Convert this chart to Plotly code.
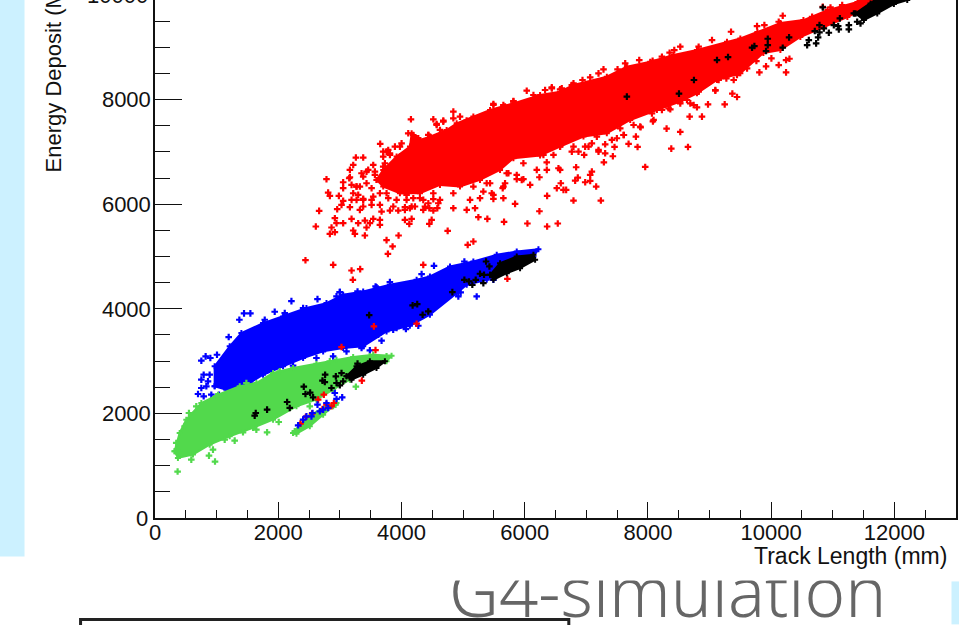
import plotly.graph_objects as go

red_core_x = [3596,3704,3921,4138,4165,4300,4463,4733,4896,5167,5438,5817,6250,6575,6792,7333,7658,8038,8417,8796,9283,9500,9776,10150,10524,10914,11401,11612,11950,
              11900,11237,10847,10474,10150,9874,9500,9121,8796,8525,8146,7713,7333,6954,6575,6250,5817,5600,5275,4950,4625,4300,3975,3704]
red_core_y = [6465,6656,6911,7102,7356,7229,7293,7420,7547,7675,7802,7929,8088,8152,8279,8439,8630,8725,8852,8948,9107,9171,9292,9464,9521,9712,9865,9950,10050,
              9950,9579,9388,9197,8949,8892,8502,8375,8120,7961,7802,7611,7356,7293,7102,6930,6879,6656,6465,6338,6369,6210,6210,6338]
red_x = [3655,3260,3379,3217,3163,3163,2783,3054,3054,2810,2838,2984,3054,3190,3271,3379,3027,2664,2957,3163,3325,3515,3650,3677,3813,3948,4056,
         2919,2946,3054,3190,3298,3406,3488,3542,3650,3650,2610,2865,2919,2838,3217,3244,3406,3433,4056,4165,4127,4490,4452,4750,3758,3953,3856,3780,
         2442,2892,3190,3330,3211,4354,5075,5167,5059,5194,5248,5394,5665,5844,6044,6239,6364,6537,6792,6364,6629,6521,6586,6819,6982,7063,7160,7090,
         6835,6575,6359,6239,6088,5654,5492,5275,5113,4436,4598,4517,4517,4452,4582,4354,3460,3542,3569,3758,3813,3975,3975,3731,3433,3515,3650,3786,
         3921,4083,4192,4300,4219,4138,4056,4192,4246,4408,4246,4138,4436,4571,4679,3325,3352,3271,3190,3298,3515,3704,
         6033,5817,5492,5681,6142,6440,6602,6765,7063,7198,7279,7507,7631,7859,8076,8227,8352,8525,8428,8823,9040,9349,9771,9890,10123,10188,10665,10838,
         11153,10963,11450,7236,6673,6862,5871,5979,5643,5681,5465,6548,6196,6358,7063,7285,7431,7306,7198,6965,6765,6873,7036,7306,7458,7686,7832,7610,
         7805,7881,8081,7956,8379,8650,8525,8303,8677,8877,8975,9246,8796,8688,9094,9370,9446,9809,10242,9917,10123,10242,10297,10004,9760,9609,9446,
         9273,9148,8823,8525,8363,8065,7767,7496,7171,6575,6304,5979,5708,5438,5329,6467,5719,
         4154,3704,3785,4517,4679,4571,4842,4950,4842,5058,5492,5654,5817,4625,4436,4273,4110,4002,3894,3813,3704,3569,3433,3379,
         5952,5871,5736,5654,5383,5167,4842,4517,5492,4842,4625,4381,4165,3867,3379,3379,3271,3217,3152,3542,3758,4083,4354,
         6331,6440,6575,6792,6938,7550,7875,8092,8227,8336,8634,8742,9094,9392,7090,6981,6792,7198,7415,7604]
red_y = [7153,6892,6892,6751,6656,6516,6478,6420,6306,6223,6159,6159,6064,6083,6083,6083,5987,5873,5905,5943,5892,5987,5987,5860,5879,5879,5943,
         5733,5637,5637,5720,5637,5688,5637,5720,5701,5605,5574,5555,5465,5433,5497,5433,5402,5555,5701,5720,5624,5701,5624,5491,5313,5402,5192,5051,
         4930,4841,4733,4759,4555,4841,5223,5287,5892,5924,5752,5720,5663,6007,5631,5866,5574,5631,6070,6159,6274,6306,6401,6452,6420,6446,6338,6624,
         6707,6656,6656,6516,6369,6115,6102,6115,6083,6019,6019,6096,5879,5924,5924,5892,6656,6751,6560,7006,6974,7102,6911,6783,6401,6306,6210,6115,
         6083,6178,6115,6115,5956,5924,5892,7324,7261,7165,7038,6847,7324,7535,7579,6338,6592,6338,6370,6178,6083,6911,
         8171,7961,7897,7866,8088,8216,8216,8279,8426,8502,8579,8579,8693,8757,8744,8821,8897,9012,8948,9012,9139,9298,9406,9425,9489,9604,9585,9776,
         9807,9763,9903,6070,6274,6509,6478,6478,6306,6401,6210,6688,6656,6802,6560,6802,6917,6974,7006,6942,7006,7006,7101,7146,7095,7153,7095,7324,
         7293,7471,7585,6713,7063,7095,7382,7445,7675,7675,7910,7910,7853,7929,8171,8114,8050,8521,8521,8636,8661,8757,8782,8789,8738,8598,8470,
         8407,8375,8152,7929,7815,7738,7515,7261,7293,7101,6942,6783,6592,6401,6242,6942,4574,
         7624,7006,7038,7624,7598,7515,7770,7675,7643,7598,7917,7897,7974,7420,7325,7261,7356,7165,7102,6943,6720,6624,6624,6529,
         6465,6560,6592,6338,6401,6338,6210,6210,6178,5924,6083,5956,5956,5956,6102,5956,6338,6210,6497,6147,6210,6083,6083,
         8184,8235,8197,8311,8375,7452,7484,7611,7802,7834,7993,7897,8184,8375,7165,7102,7102,7038,7229,7324]

blue_core_x = [968,968,1212,1402,1754,2079,2458,2783,3054,3379,3812,4246,4462,4788,5167,5546,5871,6223,6142,5384,5059,4896,4462,4137,3758,3379,3054,2729,2404,2079,1754,1537,1158]
blue_core_y = [2518,2900,3282,3536,3727,3855,4014,4109,4268,4332,4459,4555,4619,4810,4905,5032,5096,5141,5000,4555,4459,4300,3886,3676,3568,3282,3250,3186,3059,2900,2740,2581,2454]
blue_x = [1445,1548,1369,1196,2214,1943,2637,3287,3000,3596,3812,4327,752,822,898,1006,790,887,752,833,698,790,914,1039,752,860,1781,2106,2404,2946,
          3921,4072,3677,3623,3866,3352,3487,4273,4110,3108,2891,2620,2241,4528,5021,5221,5492,4923,4961,3580,3000]
blue_y = [3912,3912,3791,3460,4147,3944,4186,4332,4319,4409,4510,4663,3008,3091,3059,3122,2740,2740,2645,2518,2371,2327,2358,2358,2486,2613,3791,3918,4014,4237,
          3632,3613,3390,3504,3600,3250,3205,3676,3791,3186,3091,3059,2912,4822,4905,4236,4555,4236,4313,4428,4319]
blue_gap_x = [2323,2458,2556,2675,2810,2946,3038,2637,2918,2783,2404,2539,2729]
blue_gap_y = [1773,1944,2008,2040,2104,2276,2307,2167,2390,2199,1881,1944,2072]

green_core_x = [318,400,508,752,1023,1375,1645,1916,2241,2620,2946,3216,3541,3839,3758,3487,3162,2891,2620,2296,1916,1591,1212,887,616,372]
green_core_y = [1276,1626,1881,2199,2358,2518,2581,2772,2868,2951,3027,3078,3122,3103,2995,2868,2645,2454,2263,2136,1881,1722,1562,1403,1212,1149]
green_stripe_x = [2241,2350,2539,2783,2946,2891,2729,2512,2296]
green_stripe_y = [1626,1785,1976,2136,2199,2136,1976,1754,1613]
green_x = [551,400,589,876,974,941,1131,1293,1428,1645,1819,2008,1727,3260,2620,2512,2930,2268,3487,3758,2837,2025,1483,995,670,481,345,367]
green_y = [2008,1244,1117,1193,1079,1308,1499,1480,1639,1690,1639,1836,1881,2511,2295,2136,2167,1658,3090,3090,2995,2804,2581,2327,2136,1754,1435,888]

red_gap_x = [2447,2361,2550,2740,2648,2783,2864,2902,2718,3357,3579,4246,3552,3027]
red_gap_y = [1932,1804,1995,2358,2263,2167,2136,2199,2085,2626,3211,3715,3664,3269]

black_a_x = [3108,3270,3487,3731,3595,3379,3189]
black_a_y = [2709,2900,2995,2995,2868,2740,2645]
black_b_x = [5438,5600,5871,6142,6169,5925,5709,5492]
black_b_y = [4650,4873,5000,5032,4937,4778,4682,4555]
black_c_x = [11369,11613,11800,12300,12209,11992,11722,11505]
black_c_y = [9648,9839,10000,10000,9903,9827,9648,9521]
black_x = [7658,8504,8747,9121,9300,9690,9728,9945,9945,9917,10188,10291,10611,10584,10730,10708,10784,10762,10784,10855,10936,11017,11088,11098,11261,11261,11115,10838,11342,11396,11450,
           1635,1618,1819,2144,2187,2415,2442,2518,2566,2718,2761,2756,2864,2935,2946,3027,3054,3000,3287,3476,4181,4256,4343,4435,
           4826,5021,5096,5150,5205,5275,5340,5373,5427,5329]
black_y = [8057,8114,8375,8757,8814,8993,9024,9164,9043,8929,8993,9190,9139,9043,9075,9311,9285,9190,9425,9362,9279,9425,9406,9343,9425,9343,9553,9763,9648,9489,9457,
           2008,1957,2072,2218,2104,2511,2371,2397,2307,2626,2740,2600,2486,2709,2581,2772,2613,2537,2951,3880,4065,4090,3886,3950,
           4319,4555,4523,4459,4555,4670,4650,4905,4810,4491]

x_major = [0,2000,4000,6000,8000,10000,12000]
x_labels = ["0","2000","4000","6000","8000","10000","12000"]
y_major = [0,2000,4000,6000,8000]
y_labels = ["", "2000", "4000", "6000", "8000"]

RED = "#ff0000"; BLUE = "#0000ff"; GREEN = "#52d94c"; BLACK = "#000000"
FONT = "Liberation Sans"
W, H = 959, 625
L, R, T, B = 155.4, 956.0, 0.0, 518.5
px = lambda v: (v - L) / (R - L)
py = lambda v: (B - v) / (B - T)

fig = go.Figure()
def core(xs, ys, c, name):
    fig.add_trace(go.Scatter(x=xs + xs[:1], y=ys + ys[:1], mode="lines+markers", fill="toself", fillcolor=c,
                             line=dict(color=c, width=2), marker=dict(symbol="cross", size=5, color=c, line_width=0),
                             name=name, showlegend=False, hoverinfo="skip"))
def pts(xs, ys, c, name):
    fig.add_trace(go.Scatter(x=xs, y=ys, mode="markers", marker=dict(symbol="cross", size=5.5, color=c, line_width=0),
                             name=name, showlegend=False))

core(red_core_x, red_core_y, RED, "red core")
pts(red_x, red_y, RED, "red")
core(blue_core_x, blue_core_y, BLUE, "blue core")
pts(blue_x, blue_y, BLUE, "blue")
core(green_core_x, green_core_y, GREEN, "green core")
core(green_stripe_x, green_stripe_y, GREEN, "green stripe")
pts(green_x, green_y, GREEN, "green")
pts(red_gap_x, red_gap_y, RED, "red gap")
pts(blue_gap_x, blue_gap_y, BLUE, "blue gap")
core(black_a_x, black_a_y, BLACK, "black a")
core(black_b_x, black_b_y, BLACK, "black b")
core(black_c_x, black_c_y, BLACK, "black c")
pts(black_x, black_y, BLACK, "black")

tick = dict(family=FONT, size=22, color="#111111")
fig.update_layout(
    width=W, height=H, autosize=False, margin=dict(l=L, r=W - R, t=T, b=H - B, pad=0),
    paper_bgcolor="white", plot_bgcolor="white", showlegend=False,
    xaxis=dict(range=[0, 13000], tickvals=x_major, ticktext=x_labels, tickangle=0, ticks="inside", ticklen=16, tickwidth=1.2, tickcolor="#111",
               showline=True, linecolor="#111", linewidth=1.5, showgrid=False, zeroline=False, tickfont=tick, ticklabelstandoff=-6,
               minor=dict(dtick=500, tick0=0, ticks="inside", ticklen=8, tickwidth=1.2, tickcolor="#111", showgrid=False)),
    yaxis=dict(range=[0, 9905], tickvals=y_major, ticktext=y_labels, ticks="inside", ticklen=27, tickwidth=1.2, tickcolor="#111",
               showline=True, linecolor="#111", linewidth=1.5, mirror=True, showgrid=False, zeroline=False, tickfont=tick, ticklabelstandoff=-2,
               minor=dict(dtick=500, tick0=0, ticks="inside", ticklen=15, tickwidth=1.2, tickcolor="#111", showgrid=False)),
    shapes=[
        dict(type="rect", xref="paper", yref="paper", x0=px(0), x1=px(25), y0=py(557), y1=py(0), fillcolor="#ccf1ff", line_width=0, layer="below"),
        dict(type="rect", xref="paper", yref="paper", x0=px(951.5), x1=px(959), y0=py(625), y1=py(582), fillcolor="#ccf1ff", line_width=0, layer="below"),
        dict(type="rect", xref="paper", yref="paper", x0=px(81), x1=px(569), y0=py(640), y1=py(620), fillcolor="rgba(0,0,0,0)", line=dict(color="#222", width=3)),
    ],
    annotations=[
        dict(text="G4-simulation", xref="paper", yref="paper", x=px(668), y=py(640), xanchor="center", yanchor="bottom", showarrow=False,
             font=dict(family="Noto Sans", size=69, color="#666666", weight=300)),
        dict(text=" ", xref="paper", yref="paper", x=px(670), y=py(582), xanchor="center", yanchor="bottom", showarrow=False,
             width=480, height=24, bgcolor="white", borderpad=0),
        dict(text="10000", xref="paper", yref="paper", x=px(150.5), y=py(-5), xanchor="right", yanchor="middle", showarrow=False, font=tick),
        dict(text="0", xref="paper", yref="paper", x=px(150.5), y=py(519.5), xanchor="right", yanchor="middle", showarrow=False, font=tick),
        dict(text="Track Length (mm)", xref="paper", yref="paper", x=px(949), y=py(557), xanchor="right", yanchor="middle", showarrow=False,
             font=dict(family=FONT, size=23, color="#111111")),
        dict(text="Energy Deposit (MeV)", xref="paper", yref="paper", x=px(54), y=py(175), xanchor="center", yanchor="bottom", textangle=-90,
             showarrow=False, font=dict(family=FONT, size=22, color="#111111")),
    ],
)
fig.write_html("out.html", config=dict(displayModeBar=False),
               post_script="document.body.style.margin='0';document.documentElement.style.overflow='hidden';")
